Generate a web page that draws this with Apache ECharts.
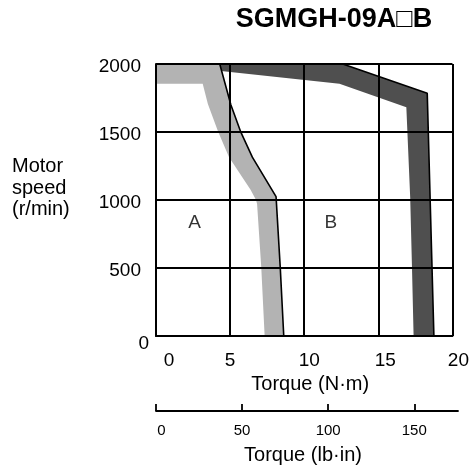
<!DOCTYPE html>
<html>
<head>
<meta charset="utf-8">
<script src="https://cdn.jsdelivr.net/npm/echarts@6/dist/echarts.min.js"></script>
<style>html,body{margin:0;padding:0;background:#fff}#c{width:472px;height:471px}</style>
</head>
<body>
<div id="c"></div>
<script>
// ---- data ----
const chartTitle = 'SGMGH-09A\u25A1B';
const torqueNmTicks = [0, 5, 10, 15, 20];
const speedTicks = [0, 500, 1000, 1500, 2000];
const torqueLbTicks = [0, 50, 100, 150];
const torqueLbMax = 175.4;

// Region A (continuous duty) band: outer boundary (black line) and inner edge
const aOuterX = [4.3, 5.05, 5.7, 6.5, 8.1, 8.38, 8.62];
const aOuterY = [2000, 1700, 1505, 1315, 1025, 510, 0];
const aInnerX = [0, 3.15, 3.5, 4.18, 4.93, 6.38, 6.75, 6.82, 7.1, 7.33];
const aInnerY = [1855, 1855, 1705, 1505, 1315, 1075, 1000, 970, 510, 0];

// Region B (intermittent duty) band
const bOuterX = [12.6, 18.3, 18.75];
const bOuterY = [2000, 1785, 0];
const bInnerX = [12.38, 16.89, 17.15, 17.27, 17.38];
const bInnerY = [1855, 1682, 1020, 510, 0];

const regionNames = ['A', 'B'];
const regionX = [2.6, 11.8];
const regionY = [830, 830];

// ---- build ----
const FONT = '"Liberation Sans", Arial, Helvetica, sans-serif';
const TICK_FS = 19, NAME_FS = 20;
const zip = (xs, ys) => xs.map((x, i) => [x, ys[i]]);

function bandPolygon(outerX, outerY, innerX, innerY) {
  const pts = [[0, outerY[0]]].concat(zip(outerX, outerY));
  const inner = zip(innerX, innerY).reverse();
  return pts.concat(inner);
}
const aPoly = bandPolygon(aOuterX, aOuterY, aInnerX, aInnerY);
const bPoly = bandPolygon(bOuterX, bOuterY, bInnerX, bInnerY);

function polySeries(points, color, z) {
  return {
    type: 'custom',
    xAxisIndex: 0, yAxisIndex: 0,
    z: z,
    silent: true,
    data: [[0, 0]],
    renderItem: function (params, api) {
      return {
        type: 'polygon',
        shape: { points: points.map(p => api.coord(p)) },
        style: { fill: color, stroke: null }
      };
    }
  };
}

const rs = pad => ({ fontSize: TICK_FS, fontFamily: FONT, color: '#000', padding: pad });
const nmRich = {
  t0: rs([0, 0, 0, 26]),
  t5: rs([0, 0, 0, 0]),
  t10: rs([0, 0, 0, 10]),
  t15: rs([0, 0, 0, 14]),
  t20: rs([0, 0, 0, 12])
};

const chart = echarts.init(document.getElementById('c'), null, { renderer: 'canvas' });
chart.setOption({
  animation: false,
  backgroundColor: '#fff',
  textStyle: { fontFamily: FONT },
  graphic: [
    { type: 'text', x: 334, y: 20, style: { text: chartTitle, font: 'bold 27px ' + FONT, fill: '#000', align: 'center', verticalAlign: 'middle' } },
    { type: 'text', x: 12, y: 156, style: { text: 'Motor\nspeed\n(r/min)', font: NAME_FS + 'px ' + FONT, fill: '#000', lineHeight: 21.5, align: 'left', verticalAlign: 'top' } }
  ],
  grid: [
    { left: 156, top: 64, width: 300, height: 272, containLabel: false },
    { left: 156, top: 409, width: 302, height: 2, containLabel: false }
  ],
  xAxis: [
    {
      type: 'value', gridIndex: 0, z: 10,
      min: torqueNmTicks[0], max: torqueNmTicks[torqueNmTicks.length - 1],
      interval: torqueNmTicks[1] - torqueNmTicks[0],
      axisLine: { show: true, lineStyle: { color: '#000', width: 2 } },
      axisTick: { show: false },
      splitLine: { show: true, lineStyle: { color: '#000', width: 2 } },
      axisLabel: {
        margin: 15, color: '#000', fontSize: TICK_FS,
        formatter: v => '{t' + v + '|' + v + '}',
        rich: nmRich
      },
      name: 'Torque (N\u00B7m)', nameLocation: 'middle', nameGap: 36,
      nameTextStyle: { fontSize: NAME_FS, color: '#000', fontFamily: FONT, padding: [0, 0, 0, 12] }
    },
    {
      type: 'value', gridIndex: 1, z: 10,
      min: 0, max: torqueLbMax, interval: torqueLbTicks[1] - torqueLbTicks[0],
      axisLine: { show: true, lineStyle: { color: '#000', width: 1.8 } },
      axisTick: { show: true, inside: true, length: 7, lineStyle: { color: '#000', width: 1.8 }, customValues: torqueLbTicks },
      splitLine: { show: false },
      axisLabel: {
        margin: 12, color: '#000', fontSize: 15, customValues: torqueLbTicks,
        formatter: v => torqueLbTicks.indexOf(v) < 0 ? '' : (v === 0 ? '{z|0}' : '{n|' + v + '}'),
        rich: {
          z: { fontSize: 15, fontFamily: FONT, color: '#000', padding: [0, 0, 0, 11] },
          n: { fontSize: 15, fontFamily: FONT, color: '#000' }
        }
      },
      name: 'Torque (lb\u00B7in)', nameLocation: 'middle', nameGap: 34,
      nameTextStyle: { fontSize: NAME_FS, color: '#000', fontFamily: FONT, padding: [0, 8, 0, 0] }
    }
  ],
  yAxis: [
    {
      type: 'value', gridIndex: 0, z: 10,
      min: speedTicks[0], max: speedTicks[speedTicks.length - 1],
      interval: speedTicks[1] - speedTicks[0],
      axisLine: { show: true, lineStyle: { color: '#000', width: 2 } },
      axisTick: { show: false },
      splitLine: { show: true, lineStyle: { color: '#000', width: 2 } },
      axisLabel: {
        margin: 7, color: '#000', fontSize: TICK_FS,
        formatter: v => v === 0 ? '{z|0}' : '{n|' + v + '}',
        rich: {
          z: rs([15, 0, 0, 0]),
          n: rs([6, 8, 0, 0])
        }
      }
    },
    { type: 'value', gridIndex: 1, show: false, min: 0, max: 1 }
  ],
  series: [
    polySeries(bPoly, '#4f4f4f', 1),
    polySeries(aPoly, '#b3b3b3', 2),
    {
      type: 'line', xAxisIndex: 0, yAxisIndex: 0, z: 3,
      data: zip(aOuterX, aOuterY), showSymbol: false, symbol: 'none',
      lineStyle: { color: '#000', width: 1.6 }, silent: true
    },
    {
      type: 'line', xAxisIndex: 0, yAxisIndex: 0, z: 3,
      data: zip(bOuterX, bOuterY), showSymbol: false, symbol: 'none',
      lineStyle: { color: '#000', width: 1.6 }, silent: true
    },
    {
      type: 'scatter', xAxisIndex: 0, yAxisIndex: 0, z: 4,
      symbolSize: 1, itemStyle: { color: 'rgba(0,0,0,0)' },
      data: regionNames.map((n, i) => [regionX[i], regionY[i], n]),
      label: { show: true, position: 'inside', formatter: p => p.data[2], fontSize: TICK_FS, color: '#000', fontFamily: FONT },
      silent: true
    }
  ]
});
</script>
</body>
</html>
